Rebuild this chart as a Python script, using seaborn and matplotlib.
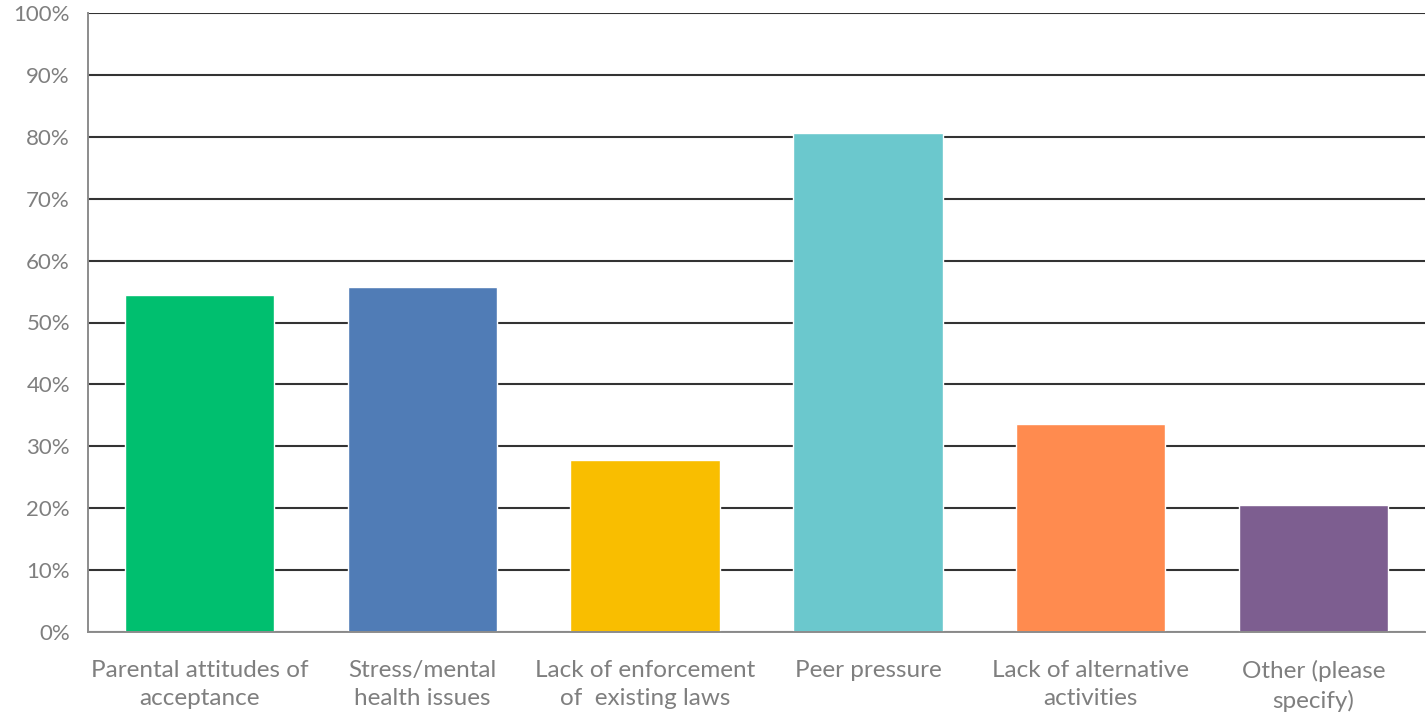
import matplotlib
matplotlib.use("Agg")
import matplotlib.pyplot as plt
import seaborn as sns
import pandas as pd
import numpy as np
from matplotlib.ticker import PercentFormatter, FixedLocator

categories = [
    "Parental attitudes of\nacceptance",
    "Stress/mental\nhealth issues",
    "Lack of enforcement\nof  existing laws",
    "Peer pressure",
    "Lack of alternative\nactivities",
    "Other (please\nspecify)",
]
values = [54.4, 55.7, 27.8, 80.6, 33.6, 20.5]
colors = ["#00BF6F", "#507CB6", "#F9BE00", "#6BC8CD", "#FF8B4F", "#7D5E90"]

df = pd.DataFrame({"reason": categories, "pct": values})

sns.set_style("white")
plt.rcParams["font.family"] = ["Lato", "DejaVu Sans"]

fig = plt.figure(figsize=(14.27, 7.14), dpi=100)
ax = fig.add_axes([88 / 1427, 1 - 632 / 714, (1425 - 88) / 1427, (632 - 13) / 714])

sns.barplot(data=df, x="reason", y="pct", hue="reason", palette=colors,
            legend=False, width=0.67, saturation=1, ax=ax)

ax.set_ylim(0, 100)
ax.set_xlim(-0.5, len(categories) - 0.5)
ax.set_yticks(np.arange(0, 101, 10))
ax.yaxis.set_major_formatter(PercentFormatter(decimals=0))
ax.set_axisbelow(True)
ax.yaxis.grid(True, color="#333333", linewidth=1.5)
ax.set_xlabel("")
ax.set_ylabel("")

for side in ["top", "right"]:
    ax.spines[side].set_visible(False)
for side in ["left", "bottom"]:
    ax.spines[side].set_color("#8c8c8c")
    ax.spines[side].set_linewidth(1.4)

# category labels centred, tick marks between categories
ax.set_xticks(range(len(categories)))
ax.set_xticklabels(categories, linespacing=1.45)
ax.xaxis.set_minor_locator(FixedLocator(np.arange(0.5, len(categories), 1)))
ax.tick_params(axis="x", which="major", length=0, pad=20, labelsize=17.5, labelcolor="#7f7f7f")
ax.tick_params(axis="x", which="minor", length=8, width=1.4, color="#8c8c8c")
ax.tick_params(axis="y", length=8, width=1.4, color="#8c8c8c", labelsize=16,
               labelcolor="#7f7f7f", pad=5)
ax.tick_params(axis="both", direction="out")

fig.savefig("out.png", dpi=100)
